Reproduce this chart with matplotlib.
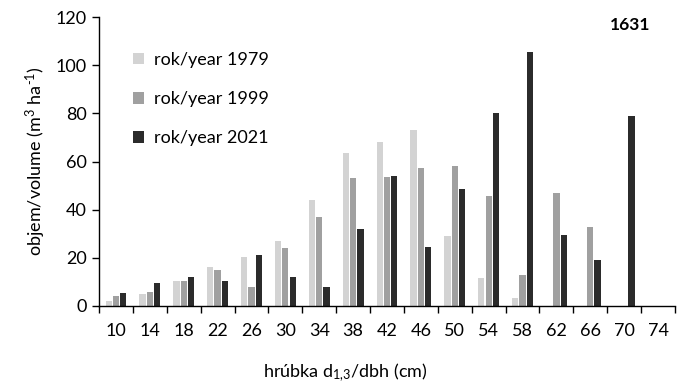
import matplotlib
matplotlib.use('Agg')
import matplotlib.pyplot as plt
import numpy as np

# hrúbkové stupne a objemy (m3/ha)
diameters = ['10', '14', '18', '22', '26', '30', '34', '38', '42', '46', '50', '54', '58', '62', '66', '70', '74']
vol_1979 = [2, 5, 10.5, 16, 20.5, 27, 44, 63.5, 68, 73, 29, 11.5, 3.5, 0, 0, 0, 0]
vol_1999 = [4, 6, 10.5, 15, 8, 24, 37, 53, 53.5, 57.5, 58, 45.5, 13, 47, 33, 0, 0]
vol_2021 = [5.5, 9.5, 12, 10.5, 21, 12, 8, 32, 54, 24.5, 48.5, 80, 105.5, 29.5, 19, 79, 0]
series_labels = ['rok/year 1979', 'rok/year 1999', 'rok/year 2021']
plot_id = '1631'

plt.rcParams['font.family'] = ['Lato', 'DejaVu Sans']
plt.rcParams['mathtext.fontset'] = 'custom'
plt.rcParams['mathtext.rm'] = 'Lato'
plt.rcParams['mathtext.it'] = 'Lato'
plt.rcParams['mathtext.bf'] = 'Lato:bold'

fs = 13
fig = plt.figure(figsize=(6.88, 3.89), dpi=100)
ax = fig.add_axes([0.1439, 0.2134, 0.8372, 0.7426])

x = np.arange(len(diameters))
colors = ['#d3d3d3', '#a0a0a0', '#2b2b2b']
step = 0.215
w = 0.185
for i, (vals, col, lab) in enumerate(zip([vol_1979, vol_1999, vol_2021], colors, series_labels)):
    ax.bar(x + (i - 1) * step, vals, width=w, color=col, label=lab, zorder=2)

ax.set_xlim(-0.5, len(diameters) - 0.5)
ax.set_ylim(0, 120)
ax.set_yticks(np.arange(0, 121, 20))
ax.tick_params(axis='y', direction='out', length=5, width=1, labelsize=fs, pad=4)

# tick marks na hraniciach kategórií, popisky v stredoch
ax.set_xticks(np.arange(-0.5, len(diameters), 1))
ax.set_xticklabels([])
ax.set_xticks(x, minor=True)
ax.set_xticklabels(diameters, minor=True)
ax.tick_params(axis='x', which='major', direction='out', length=5, width=1)
ax.tick_params(axis='x', which='minor', length=0, labelsize=fs, pad=12.5)

for s in ['top', 'right']:
    ax.spines[s].set_visible(False)
for s in ['left', 'bottom']:
    ax.spines[s].set_linewidth(1)

ax.set_ylabel(r'objem/volume (m$^{3}$ ha$^{\text{-}1}$)', fontsize=fs, labelpad=5)
fig.text(0.502, 0.042, r'hrúbka d$_{\text{1,3}}$/dbh (cm)', fontsize=fs, ha='center', va='center')
fig.text(0.916, 0.935, plot_id, fontsize=12.5, fontweight='bold', ha='center', va='center')

ax.legend(loc='upper left', bbox_to_anchor=(0.193, 0.866), bbox_transform=fig.transFigure,
          frameon=False, fontsize=fs, handlelength=0.6, handleheight=0.6,
          handletextpad=0.6, labelspacing=1.28, borderaxespad=0, borderpad=0)

plt.savefig('out.png', dpi=100)
plt.close(fig)
